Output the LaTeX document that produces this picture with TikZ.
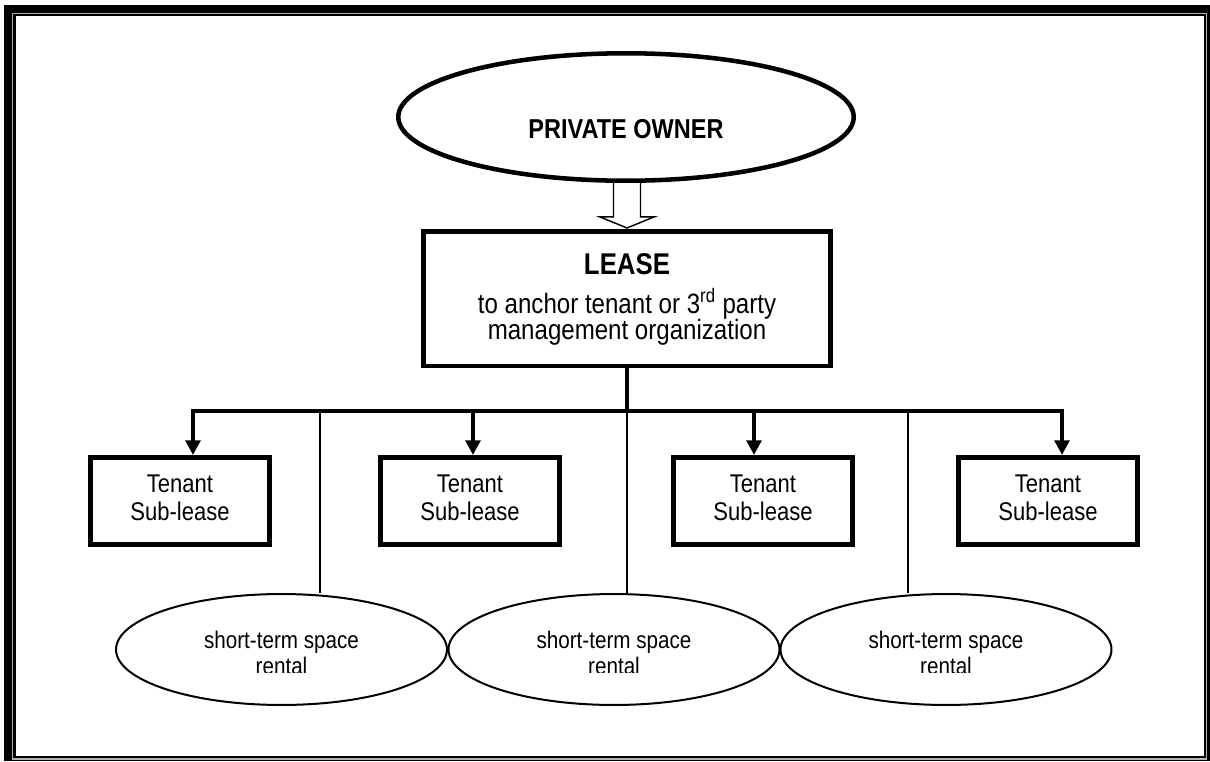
\documentclass[tikz,border=0pt]{standalone}
\usepackage{fontspec}
\setmainfont{Liberation Sans}[FakeStretch=0.86]
\usetikzlibrary{arrows.meta,shapes.geometric,calc}
\begin{document}
\begin{tikzpicture}[x=0.75pt,y=-0.75pt,
  ownerbox/.style={ellipse, draw, fill=white, line width=3.4pt, minimum width=341.6pt, minimum height=95.6pt, inner sep=0pt},
  leasebox/.style={rectangle, draw, fill=white, line width=3.4pt, minimum width=305.6pt, minimum height=100.9pt, inner sep=0pt},
  tenantbox/.style={rectangle, draw, fill=white, line width=3.4pt, minimum width=134.6pt, minimum height=65.6pt, inner sep=0pt},
  rentalbox/.style={ellipse, draw, fill=white, line width=1.5pt, minimum width=248.2pt, minimum height=83.2pt, inner sep=0pt},
  bus/.style={line width=3pt},
  busarrow/.style={line width=3pt, -{Triangle[width=11pt,length=11pt]}},
  divider/.style={line width=1pt},
  hollowarrow/.style={draw, fill=white, line width=1.1pt, line join=miter},
  txt/.style={inner sep=0pt, anchor=base},
  ownerfont/.style={font=\bfseries\fontsize{20.5pt}{21pt}\selectfont},
  headfont/.style={font=\bfseries\fontsize{22.5pt}{22.5pt}\selectfont},
  bodyfont/.style={font=\fontsize{21pt}{21pt}\selectfont},
  tenantfont/.style={font=\fontsize{19.2pt}{21pt}\selectfont},
  rentalfont/.style={font=\fontsize{18pt}{18.75pt}\selectfont}
]
\useasboundingbox (0,0) rectangle (1210,761);

% page border: thick-thin double rule
\fill[black]   (4,5)      rectangle (1209.5,761);
\fill[gray!60] (11.5,12.5) rectangle (1207,759.5);
\fill[black]   (13,14)    rectangle (1206,758);
\fill[white]   (15.5,16)  rectangle (1203.5,756);

% owner and lease
\node[ownerbox] (owner) at (626,117) {};
\node[leasebox] (lease) at (627,298.5) {};

% hollow block arrow from owner to lease
\path (lease.north) ++(0,-1) coordinate (tip);
\coordinate (stem) at (owner.south -| tip);
\draw[hollowarrow]
  ($(stem)+(-13.5,0)$) -- ($(tip)+(-13.5,-11)$) -- ($(tip)+(-27,-11)$)
  -- (tip) -- ($(tip)+(27,-11)$) -- ($(tip)+(13.5,-11)$) -- ($(stem)+(13.5,0)$);

% tenant sub-lease boxes
\node[tenantbox] (t1) at (180,501) {};
\node[tenantbox] (t2) at (470,501) {};
\node[tenantbox] (t3) at (763,501) {};
\node[tenantbox] (t4) at (1048,501) {};

% distribution bus
\coordinate (hub) at (627,411);
\coordinate (a1) at (193,455);
\coordinate (a2) at (473,455);
\coordinate (a3) at (754,455);
\coordinate (a4) at (1062,455);
\draw[bus] (lease.south) -- (hub);
\foreach \k in {1,...,4} { \draw[busarrow] (hub) -| (a\k); }

% short-term rental ellipses and their thin links
\coordinate (d1) at (320,411);
\coordinate (d2) at (627,411);
\coordinate (d3) at (908,411);
\node[rentalbox] (r1) at (281.5,649.5) {};
\node[rentalbox] (r2) at (614,649.5) {};
\node[rentalbox] (r3) at (946,649.5) {};
\draw[divider] (d1) -- (d1 |- r1.north);
\draw[divider] (d2) -- (d2 |- r2.north);
\draw[divider] (d3) -- (d3 |- r3.north);

% texts
\node[txt,ownerfont] (ownerT) at (626,138) {PRIVATE OWNER};
\node[txt,headfont] (leaseA) at (627,274) {LEASE};
\node[txt,bodyfont] (leaseB) at (627,313) {to anchor tenant or 3\textsuperscript{rd} party};
\node[txt,bodyfont] (leaseC) at (627,339) {management organization};
\foreach \k/\x in {1/180,2/470,3/763,4/1048} {
  \node[txt,tenantfont] (t\k a) at (\x,492) {Tenant};
  \node[txt,tenantfont] (t\k b) at (\x,520) {Sub-lease};
}
% the rental labels sit in text frames that crop their lower edge
\begin{scope}
  \clip (100,560) rectangle (1130,672.5);
  \foreach \k/\x in {1/281.5,2/614,3/946} {
    \node[txt,rentalfont] (r\k a) at (\x,648) {short-term space};
    \node[txt,rentalfont] (r\k b) at (\x,674) {rental};
  }
\end{scope}
\end{tikzpicture}
\end{document}
